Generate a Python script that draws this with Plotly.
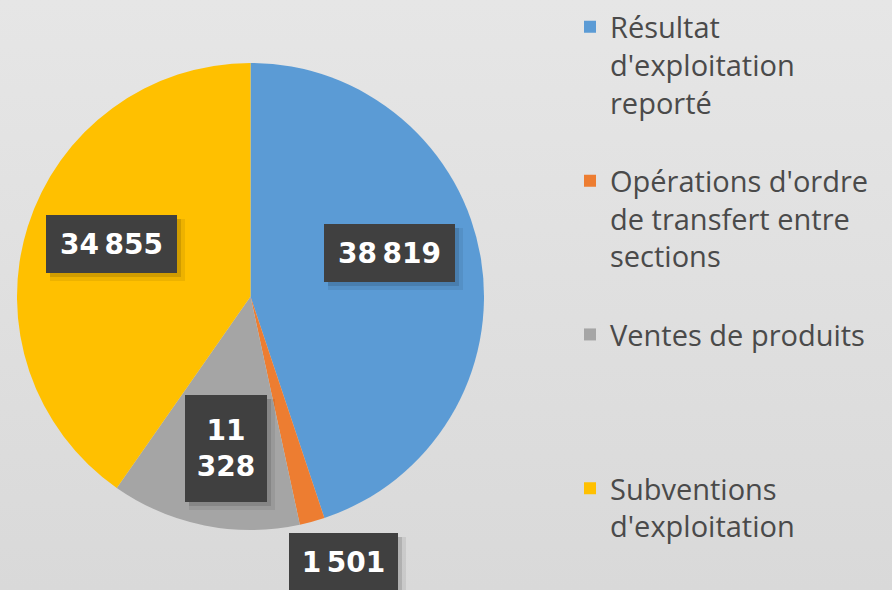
import base64
import math

import plotly.graph_objects as go

# ---- data -------------------------------------------------------------
categories = [
    "Résultat d'exploitation reporté",
    "Opérations d'ordre de transfert entre sections",
    "Ventes de produits",
    "Subventions d'exploitation",
]
legend_lines = [
    ["Résultat", "d'exploitation", "reporté"],
    ["Opérations d'ordre", "de transfert entre", "sections"],
    ["Ventes de produits"],
    ["Subventions", "d'exploitation"],
]
values = [38819, 1501, 11328, 34855]
colors = ["#5B9BD5", "#ED7D31", "#A5A5A5", "#FFC000"]

# ---- label placement (style) -----------------------------------------
label_radius = [0.624, 1.205, 0.659, 0.636]   # fraction of pie radius
label_shift = [-8.2, -4.0, -2.2, 3.2]         # degrees from slice middle
label_wrap = [False, False, True, False]
box_w = [131, 109, 82, 131]
box_h = [58, 58, 107, 58]

# ---- geometry ----------------------------------------------------------
W, H = 892, 590
PIE_CX, PIE_CY, PIE_R = 250.5, 296.5, 233.5
LEGEND_FS = 29
LINES_PER_ITEM = 4


def fmt(v, wrap):
    s = f"{v:,}".replace(",", "\u202f")
    return s.replace("\u202f", "<br>") if wrap else s


# legend entries padded to equal height so each item gets the same slot
names = []
for i, lines in enumerate(legend_lines):
    padded = list(lines)
    if i < len(legend_lines) - 1:
        padded += ["\u00a0"] * (LINES_PER_ITEM - len(lines))
    names.append("<br>".join(padded))

fig = go.Figure(
    go.Pie(
        labels=names,
        values=values,
        sort=False,
        direction="clockwise",
        rotation=0,
        marker=dict(colors=colors, line=dict(width=0)),
        textinfo="none",
        textposition="none",
        hovertext=categories,
        hoverinfo="text+value",
        domain=dict(
            x=[(PIE_CX - PIE_R) / W, (PIE_CX + PIE_R) / W],
            y=[1 - (PIE_CY + PIE_R) / H, 1 - (PIE_CY - PIE_R) / H],
        ),
    )
)

# data labels in dark boxes, placed by slice angle
total = sum(values)
start = 0.0
annotations = []
for i, v in enumerate(values):
    span = 360.0 * v / total
    mid = start + span / 2 + label_shift[i]
    start += span
    r = PIE_R * label_radius[i]
    px = PIE_CX + r * math.sin(math.radians(mid))
    py = PIE_CY - r * math.cos(math.radians(mid))
    common = dict(
        xref="paper", yref="paper", xanchor="center", yanchor="middle",
        showarrow=False, borderpad=0, borderwidth=0, align="center",
    )
    # soft drop shadow (two layered offsets)
    for off, alpha, grow in ((6, 0.07, 4), (4, 0.12, 0)):
        annotations.append(dict(
            x=(px + off) / W, y=1 - (py + off) / H, text="",
            width=box_w[i] + grow, height=box_h[i] + grow,
            bgcolor=f"rgba(0,0,0,{alpha})", **common,
        ))
    annotations.append(dict(
        x=px / W, y=1 - py / H, text=fmt(v, label_wrap[i]),
        width=box_w[i], height=box_h[i],
        bgcolor="#404040",
        font=dict(family="DejaVu Sans", size=28, color="white", weight="bold"),
        **common,
    ))

# light grey vertical gradient behind the chart
svg = (
    f'<svg xmlns="http://www.w3.org/2000/svg" width="{W}" height="{H}">'
    '<defs><linearGradient id="g" x1="0" y1="0" x2="0" y2="1">'
    '<stop offset="0" stop-color="#e6e6e6"/>'
    '<stop offset="1" stop-color="#d9d9d9"/>'
    '</linearGradient></defs>'
    f'<rect width="{W}" height="{H}" fill="url(#g)"/></svg>'
)
bg_src = "data:image/svg+xml;base64," + base64.b64encode(svg.encode()).decode()

fig.update_layout(
    width=W,
    height=H,
    margin=dict(l=0, r=0, t=0, b=0),
    paper_bgcolor="#e0e0e0",
    plot_bgcolor="rgba(0,0,0,0)",
    images=[dict(
        source=bg_src, xref="paper", yref="paper", x=0, y=1,
        sizex=1, sizey=1, sizing="stretch", layer="below",
        xanchor="left", yanchor="top",
    )],
    showlegend=True,
    legend=dict(
        x=570 / W, y=1 - 1.5 / H, xanchor="left", yanchor="top",
        valign="top", bgcolor="rgba(0,0,0,0)",
        font=dict(family="Open Sans", size=LEGEND_FS, color="#4a4a4a"),
    ),
    annotations=annotations,
)

fig.write_html("out.html")
